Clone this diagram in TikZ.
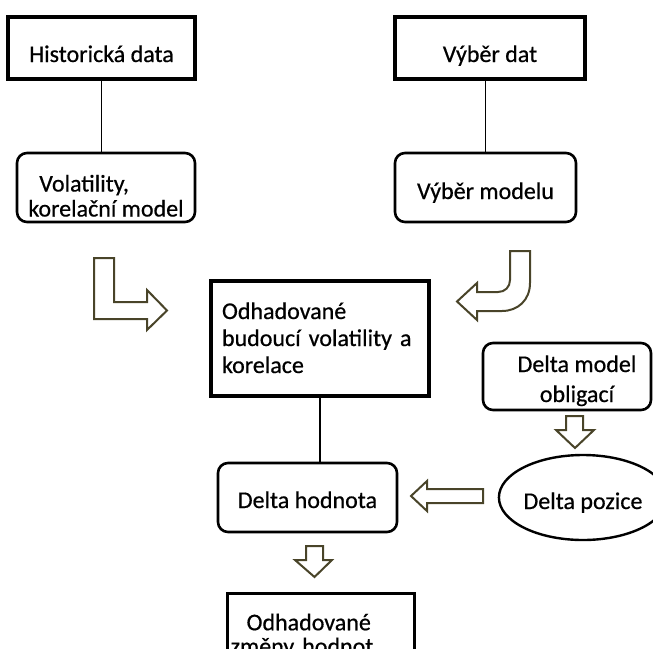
\documentclass[tikz,border=0pt]{standalone}
\usepackage{fontspec}
\setmainfont{Carlito}[FakeBold=0.6]
\usetikzlibrary{shapes.geometric}
\definecolor{arrowc}{HTML}{494429}
\tikzset{
  sqbox/.style={draw, line width=1.6pt, inner sep=0pt},
  rbox/.style={draw, rounded corners=5pt, line width=1.3pt, inner sep=0pt},
  oval/.style={draw, ellipse, line width=1.2pt, inner sep=0pt},
  link/.style={line width=0.7pt},
  blockarrow/.style={draw=arrowc, line width=1pt, fill=white, line join=miter}
}
\begin{document}
\begin{tikzpicture}[x=0.5pt, y=-0.5pt, font=\fontsize{12}{12.5}\selectfont]
\useasboundingbox (0,0) rectangle (653,648);
\clip (0,0) rectangle (653,648);
% блоки
\node [sqbox, minimum width=93.5pt, minimum height=31pt, text height=14pt, text depth=0pt] (hist) at (101.5,48) {Historická data};
\node [rbox, minimum width=89pt, minimum height=34.5pt, align=left, text height=29pt, text depth=0pt] (vol) at (106,187.5) {\hspace{5.5pt}Volatility,\\korelační model};
\node [sqbox, minimum width=95pt, minimum height=31pt, text height=14pt, text depth=0pt] (vdat) at (490,48) {Výběr dat};
\node [rbox, minimum width=90.5pt, minimum height=34.5pt, text height=11.5pt, text depth=0pt] (vmod) at (485.5,187.5) {Výběr modelu};
\node [sqbox, minimum height=57.5pt, text width=98pt, inner xsep=5.5pt, align=left, text height=9pt, text depth=28.5pt,
       font=\fontsize{12}{13.5}\selectfont] (odhad) at (320,338.5) {Odhadované\\budoucí volatility a\\korelace};
\node [rbox, minimum width=84pt, minimum height=33.5pt, align=center, text height=25.5pt, text depth=0pt,
       font=\fontsize{12}{15}\selectfont] (dmodel) at (567,376.5) {\hspace{10pt}Delta model\\\hspace{10pt}obligací};
\node [rbox, minimum width=89.5pt, minimum height=34.5pt, text height=10.5pt, text depth=0pt] (dhod) at (307.5,497.5) {Delta hodnota};
\node [oval, minimum width=76pt, minimum height=42.5pt, text height=11.5pt, text depth=0pt] (dpoz) at (583,497.5) {Delta pozice};
\node [sqbox, anchor=north west, text width=90.5pt, inner xsep=1.5pt, inner ysep=10pt, align=left,
       font=\fontsize{12}{12}\selectfont] (zmeny) at (226,592) {\hspace{8pt}Odhadované\\změny hodnot};

% линии
\draw [link] (hist.south) -- (hist.south |- vol.north);
\draw [link] (vmod.north) -- (vmod.north |- vdat.south);
\draw [link] (odhad.south) -- (odhad.south |- dhod.north);

% стрелки
\draw [blockarrow] (94,258) -- (114,258) -- (114,302) -- (147,302) -- (147,290) -- (167,310.5)
      -- (147,330) -- (147,319) -- (94,319) -- cycle;
\draw [blockarrow] (530,251) -- (530,283) .. controls (530,300) and (518,311) .. (502,311)
      -- (477,311) -- (477,320) -- (457,301.5) -- (477,283) -- (477,292) -- (498,292)
      .. controls (505,292) and (510,287) .. (510,280) -- (510,251) -- cycle;
\draw [blockarrow] (566,416) -- (583,416) -- (583,430) -- (594,430) -- (575,448) -- (556,430)
      -- (566,430) -- cycle;
\draw [blockarrow] (306,546) -- (323,546) -- (323,560) -- (332,560) -- (314.5,577) -- (295,560)
      -- (306,560) -- cycle;
\draw [blockarrow] (483,489) -- (483,503) -- (427,503) -- (427,511) -- (411,496) -- (427,481)
      -- (427,489) -- cycle;
\end{tikzpicture}
\end{document}
